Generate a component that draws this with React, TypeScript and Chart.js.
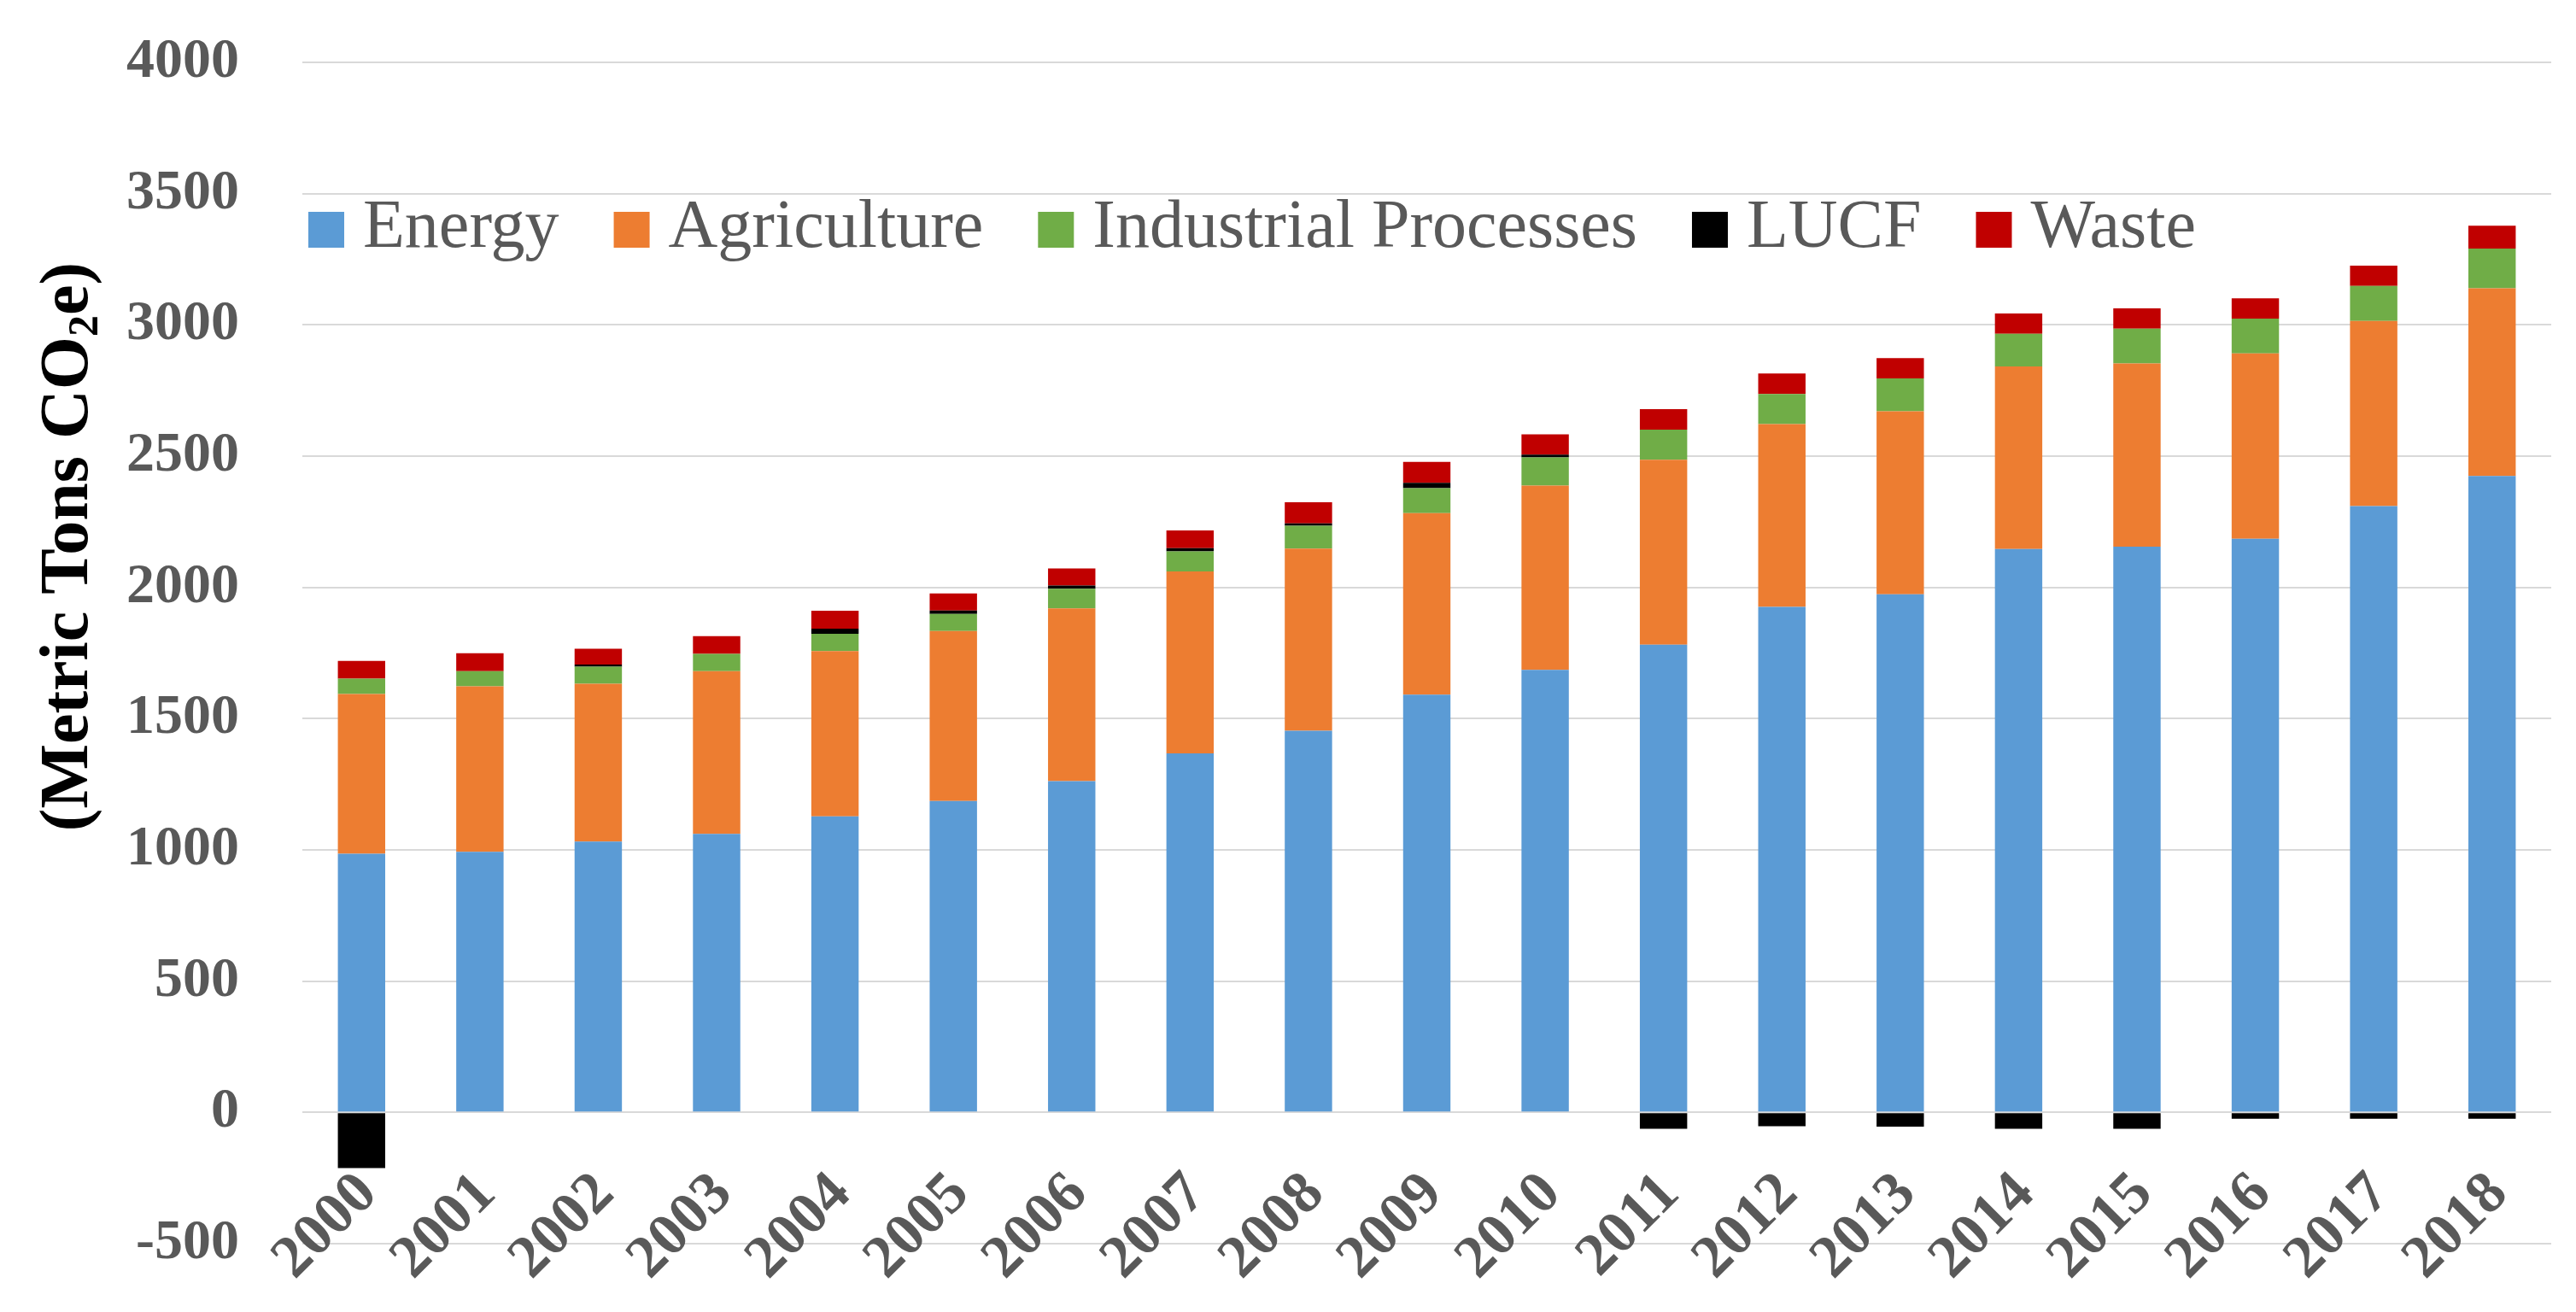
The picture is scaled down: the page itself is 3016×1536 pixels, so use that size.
import React, { useEffect, useRef } from "react";
import { Chart, registerables } from "chart.js";

Chart.register(...registerables);

const years = ["2000", "2001", "2002", "2003", "2004", "2005", "2006", "2007", "2008", "2009", "2010", "2011", "2012", "2013", "2014", "2015", "2016", "2017", "2018"];
const energy = [985, 993, 1032, 1061, 1128, 1186, 1262, 1368, 1454, 1591, 1686, 1782, 1926, 1974, 2146, 2155, 2185, 2310, 2424];
const agriculture = [609, 630, 601, 620, 629, 648, 658, 693, 694, 692, 702, 704, 696, 697, 696, 698, 706, 705, 715];
const industrial = [58, 58, 65, 66, 66, 65, 75, 76, 87, 95, 107, 115, 115, 125, 124, 133, 133, 133, 152];
const lucf = [-212, 0, 8, 0, 20, 13, 12, 12, 9, 20, 11, -62, -53, -54, -62, -62, -24, -24, -24];
const waste = [68, 68, 60, 67, 68, 65, 65, 68, 80, 80, 77, 78, 78, 77, 77, 77, 77, 78, 87];

const seriesNames = ["Energy", "Agriculture", "Industrial Processes", "LUCF", "Waste"];
const seriesColors = ["#5B9BD5", "#ED7D31", "#70AD47", "#000000", "#C00000"];

const yMin = -500;
const yMax = 4000;
const yStep = 500;

const titleMain1 = "(Metric Tons CO";
const titleSub = "2";
const titleMain2 = "e)";

const SERIF = '"Liberation Serif", "Times New Roman", serif';

const legendPlugin = {
  id: "insideLegend",
  afterDraw(chart: any) {
    const { ctx, chartArea } = chart;
    const cy = chartArea.top + 196;
    const box = 42;
    let x = chartArea.left + 7;
    ctx.save();
    ctx.font = `80px ${SERIF}`;
    ctx.textAlign = "left";
    ctx.textBaseline = "alphabetic";
    chart.data.datasets.forEach((ds: any) => {
      ctx.fillStyle = ds.backgroundColor;
      ctx.fillRect(x, cy - box / 2, box, box);
      x += box + 22;
      ctx.fillStyle = "#595959";
      ctx.fillText(ds.label, x, cy + 20);
      x += ctx.measureText(ds.label).width + 64;
    });
    ctx.restore();
  },
};

const yTitlePlugin = {
  id: "yTitle",
  afterDraw(chart: any) {
    const { ctx, chartArea } = chart;
    const cx = 82;
    const cy = chartArea.top + 0.41 * (chartArea.bottom - chartArea.top);
    const mainFont = `bold 80px ${SERIF}`;
    const subFont = `bold 50px ${SERIF}`;
    ctx.save();
    ctx.translate(cx, cy);
    ctx.rotate(-Math.PI / 2);
    ctx.fillStyle = "#000000";
    ctx.textAlign = "left";
    ctx.textBaseline = "alphabetic";
    ctx.font = mainFont;
    const w1 = ctx.measureText(titleMain1).width;
    const w3 = ctx.measureText(titleMain2).width;
    ctx.font = subFont;
    const w2 = ctx.measureText(titleSub).width;
    let x = -(w1 + w2 + w3) / 2;
    const base = 20;
    ctx.font = mainFont;
    ctx.fillText(titleMain1, x, base);
    x += w1;
    ctx.font = subFont;
    ctx.fillText(titleSub, x, base + 12);
    x += w2;
    ctx.font = mainFont;
    ctx.fillText(titleMain2, x, base);
    ctx.restore();
  },
};

export default function App() {
  const ref = useRef<HTMLCanvasElement>(null);

  useEffect(() => {
    const canvas = ref.current;
    if (!canvas) return;
    const values = [energy, agriculture, industrial, lucf, waste];
    const chart = new Chart(canvas, {
      type: "bar",
      data: {
        labels: years,
        datasets: seriesNames.map((name, i) => ({
          label: name,
          data: values[i],
          backgroundColor: seriesColors[i],
          borderWidth: 0,
          barPercentage: 0.4,
          categoryPercentage: 1.0,
        })),
      },
      options: {
        responsive: false,
        animation: false,
        devicePixelRatio: 1,
        events: [],
        layout: { padding: { top: 73, right: 29, bottom: 80, left: 0 } },
        plugins: {
          legend: { display: false },
          tooltip: { enabled: false },
          title: { display: false },
        },
        scales: {
          x: {
            position: { y: 0 },
            stacked: true,
            grid: { display: false, drawTicks: true, tickLength: 55, tickColor: "rgba(0,0,0,0)" },
            border: { display: false },
            ticks: {
              color: "#595959",
              font: { family: SERIF, size: 70, weight: "bold" },
              minRotation: 45,
              maxRotation: 45,
              autoSkip: false,
              padding: 0,
              labelOffset: 8,
            },
            afterFit: (s: any) => {
              s.height = 0;
            },
          },
          y: {
            stacked: true,
            min: yMin,
            max: yMax,
            grid: { color: "#D9D9D9", lineWidth: 2, drawTicks: true, tickLength: 74, tickColor: "rgba(0,0,0,0)" },
            border: { display: false },
            ticks: {
              stepSize: yStep,
              color: "#595959",
              font: { family: SERIF, size: 66, weight: "bold" },
              padding: 0,
              callback: (v: any) => String(v),
            },
            afterFit: (s: any) => {
              s.width = 354;
            },
          },
        },
      } as any,
      plugins: [legendPlugin, yTitlePlugin],
    });
    return () => chart.destroy();
  }, []);

  return (
    <div style={{ position: "fixed", left: 0, top: 0, width: 3016, height: 1536, background: "#ffffff" }}>
      <canvas ref={ref} width={3016} height={1536} style={{ width: 3016, height: 1536, display: "block" }} />
    </div>
  );
}
